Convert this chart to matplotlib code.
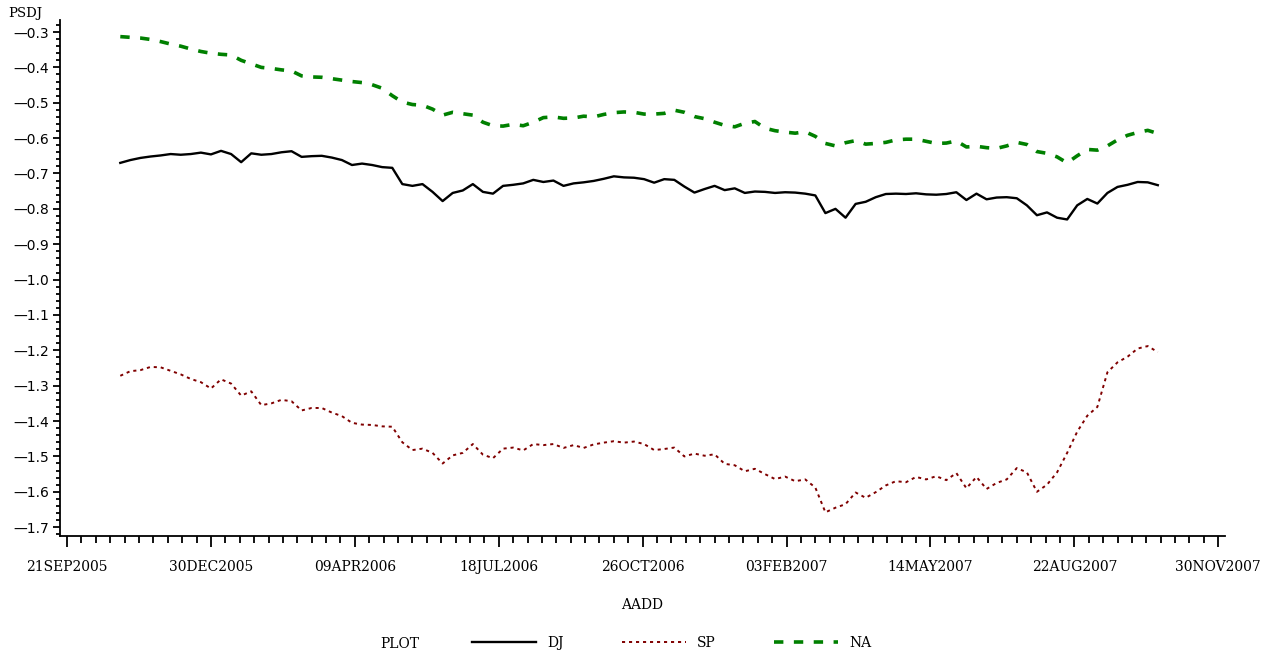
import matplotlib
matplotlib.use('Agg')
import numpy as np
import pandas as pd
import matplotlib.pyplot as plt
import matplotlib.dates as mdates
from matplotlib.ticker import FixedLocator, FuncFormatter, MultipleLocator

# weekly readings taken off the chart
dates = pd.date_range('2005-10-28', periods=104, freq='7D')

dj = [-0.670, -0.662, -0.656, -0.652, -0.649, -0.645, -0.647, -0.645, -0.641, -0.646,
      -0.636, -0.645, -0.668, -0.643, -0.647, -0.645, -0.640, -0.637, -0.653, -0.651,
      -0.650, -0.655, -0.662, -0.676, -0.672, -0.676, -0.682, -0.684, -0.730, -0.735,
      -0.730, -0.752, -0.778, -0.755, -0.748, -0.730, -0.752, -0.757, -0.735, -0.732,
      -0.728, -0.718, -0.724, -0.720, -0.735, -0.728, -0.725, -0.721, -0.715, -0.708,
      -0.711, -0.712, -0.716, -0.726, -0.716, -0.718, -0.737, -0.754, -0.744, -0.735,
      -0.747, -0.742, -0.755, -0.751, -0.752, -0.755, -0.753, -0.754, -0.757, -0.762,
      -0.812, -0.800, -0.825, -0.786, -0.780, -0.767, -0.758, -0.757, -0.758, -0.756,
      -0.759, -0.760, -0.758, -0.753, -0.775, -0.757, -0.773, -0.768, -0.767, -0.770,
      -0.790, -0.818, -0.810, -0.825, -0.830, -0.790, -0.772, -0.785, -0.755, -0.738,
      -0.732, -0.724, -0.725, -0.733]

sp = [-1.272, -1.259, -1.256, -1.247, -1.248, -1.258, -1.268, -1.281, -1.290, -1.308,
      -1.282, -1.294, -1.328, -1.316, -1.355, -1.350, -1.340, -1.344, -1.370, -1.363,
      -1.363, -1.376, -1.386, -1.405, -1.410, -1.411, -1.415, -1.416, -1.460, -1.482,
      -1.478, -1.490, -1.520, -1.497, -1.490, -1.465, -1.495, -1.505, -1.478, -1.475,
      -1.483, -1.465, -1.468, -1.465, -1.476, -1.468, -1.476, -1.466, -1.461, -1.457,
      -1.461, -1.458, -1.465, -1.482, -1.479, -1.475, -1.500, -1.492, -1.498, -1.494,
      -1.521, -1.525, -1.542, -1.535, -1.550, -1.564, -1.557, -1.570, -1.565, -1.588,
      -1.658, -1.645, -1.635, -1.602, -1.617, -1.601, -1.582, -1.570, -1.573, -1.558,
      -1.565, -1.556, -1.567, -1.547, -1.590, -1.558, -1.592, -1.575, -1.565, -1.533,
      -1.545, -1.600, -1.580, -1.545, -1.490, -1.430, -1.385, -1.360, -1.262, -1.234,
      -1.218, -1.195, -1.188, -1.205]

na = [-0.313, -0.315, -0.317, -0.321, -0.327, -0.334, -0.340, -0.348, -0.355, -0.360,
      -0.363, -0.365, -0.380, -0.390, -0.400, -0.403, -0.407, -0.410, -0.424, -0.427,
      -0.428, -0.432, -0.436, -0.440, -0.443, -0.449, -0.459, -0.480, -0.498, -0.505,
      -0.507, -0.518, -0.535, -0.527, -0.531, -0.535, -0.555, -0.565, -0.566, -0.561,
      -0.565, -0.555, -0.542, -0.540, -0.544, -0.543, -0.538, -0.540, -0.533, -0.528,
      -0.526, -0.527, -0.532, -0.532, -0.530, -0.521, -0.527, -0.539, -0.545, -0.555,
      -0.564, -0.568, -0.558, -0.553, -0.572, -0.579, -0.583, -0.586, -0.582, -0.595,
      -0.615, -0.622, -0.613, -0.607, -0.617, -0.615, -0.612, -0.605, -0.603, -0.603,
      -0.609, -0.615, -0.614, -0.608, -0.625, -0.623, -0.627, -0.629, -0.622, -0.612,
      -0.618, -0.638, -0.643, -0.653, -0.670, -0.650, -0.632, -0.634, -0.622, -0.605,
      -0.592, -0.584, -0.578, -0.587]

xtick_labels = ['21SEP2005', '30DEC2005', '09APR2006', '18JUL2006', '26OCT2006',
                '03FEB2007', '14MAY2007', '22AUG2007', '30NOV2007']
yticks = [-0.3, -0.4, -0.5, -0.6, -0.7, -0.8, -0.9, -1.0, -1.1, -1.2, -1.3, -1.4, -1.5, -1.6, -1.7]

serif = 'DejaVu Serif'

fig = plt.figure(figsize=(12.74, 6.57), dpi=100)
ax = fig.add_axes([60 / 1274, 1 - 536 / 657, 1165 / 1274, 516 / 657])

ax.plot(dates, dj, color='black', lw=1.7, label='DJ')
ax.plot(dates, sp, color='#800000', lw=1.4, ls=(0, (1.6, 2.0)), label='SP')
ax.plot(dates, na, color='#008000', lw=2.6, ls=(0, (2.6, 2.9)), label='NA')

tick_dates = mdates.date2num(pd.to_datetime(xtick_labels, format='%d%b%Y'))
ax.set_xlim(tick_dates[0] - 4.9, tick_dates[0] + 804.7)
ax.set_ylim(-1.725, -0.266)

ax.xaxis.set_major_locator(FixedLocator(tick_dates))
ax.xaxis.set_minor_locator(FixedLocator(np.arange(tick_dates[0], tick_dates[-1] + 1, 10)))
ax.set_xticklabels(xtick_labels, fontfamily=serif, fontsize=10)

ax.yaxis.set_major_locator(FixedLocator(yticks))
ax.yaxis.set_minor_locator(MultipleLocator(0.02))
ax.yaxis.set_major_formatter(FuncFormatter(lambda v, p: '\u2014%.1f' % abs(v)))
for lab in ax.get_yticklabels():
    lab.set_fontsize(10)

for s in ['top', 'right']:
    ax.spines[s].set_visible(False)
for s in ['left', 'bottom']:
    ax.spines[s].set_linewidth(1.3)

ax.tick_params(axis='x', which='major', length=8, width=1.3, pad=9)
ax.tick_params(axis='x', which='minor', length=5, width=1.3)
ax.tick_params(axis='y', which='major', length=5, width=1.3, pad=3)
ax.tick_params(axis='y', which='minor', length=3, width=1.3)

fig.text(8 / 1274, 1 - 13 / 657, 'PSDJ', fontfamily=serif, fontsize=9.5, va='center', ha='left')
fig.text(642 / 1274, 1 - 605 / 657, 'AADD', fontfamily=serif, fontsize=10, va='center', ha='center')
fig.text(400 / 1274, 1 - 644 / 657, 'PLOT', fontfamily=serif, fontsize=10, va='center', ha='center')

handles, labels = ax.get_legend_handles_labels()
fig.legend(handles, labels, loc='center left', bbox_to_anchor=(472 / 1274, 1 - 643 / 657),
           ncol=3, frameon=False, borderpad=0, borderaxespad=0, handlelength=4.6,
           handletextpad=0.8, columnspacing=4.2, prop={'family': serif, 'size': 10})

fig.savefig('out.png', dpi=100)
